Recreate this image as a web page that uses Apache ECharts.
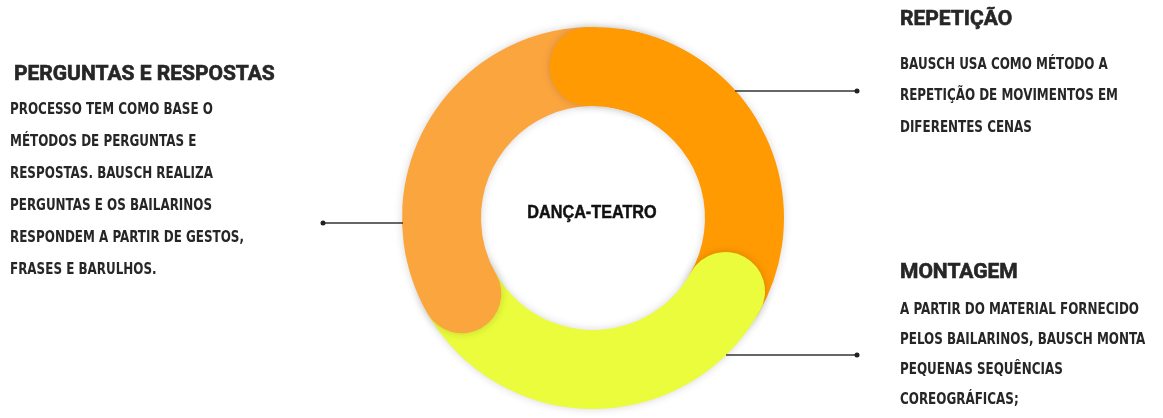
<!DOCTYPE html>
<html>
<head>
<meta charset="utf-8">
<script src="https://cdn.jsdelivr.net/npm/echarts@6/dist/echarts.min.js"></script>
<style>
  html, body { margin: 0; padding: 0; background: #fff; }
  #chart { width: 1163px; height: 418px; }
</style>
</head>
<body>
<div id="chart"></div>
<script>
// arcos do anel (graus do eixo angular, 0 = ponto de corte logo a esquerda do topo)
var pieceNames = ['repeticao-fim', 'montagem', 'perguntas', 'repeticao-inicio', 'repeticao-meio'];
var pieceStart = [10, 120.5, 241.5, 0, 15];
var pieceLength = [111.5, 123, 118.5, 21.5, 45];
var pieceColor = ['#FF9A02', '#EAFC3B', '#FBA53F', '#FF9A02', '#FF9A02'];
var pieceShadow = [true, true, true, true, false];

var centerLabel = 'DANÇA-TEATRO';
var titles = ['REPETIÇÃO', 'MONTAGEM', 'PERGUNTAS E RESPOSTAS'];
var texts = [
  ['BAUSCH USA COMO MÉTODO A', 'REPETIÇÃO DE MOVIMENTOS EM', 'DIFERENTES CENAS'],
  ['A PARTIR DO MATERIAL FORNECIDO', 'PELOS BAILARINOS, BAUSCH MONTA', 'PEQUENAS SEQUÊNCIAS', 'COREOGRÁFICAS;'],
  ['PROCESSO TEM COMO BASE O', 'MÉTODOS DE PERGUNTAS E', 'RESPOSTAS. BAUSCH REALIZA', 'PERGUNTAS E OS BAILARINOS', 'RESPONDEM A PARTIR DE GESTOS,', 'FRASES E BARULHOS.']
];

var chart = echarts.init(document.getElementById('chart'));

// um sistema polar por pedaco, todos sobrepostos, para os arcos se cobrirem
var polars = [], angleAxes = [], radiusAxes = [], series = [];
for (var i = 0; i < pieceStart.length; i++) {
  polars.push({ center: [593, 218], radius: [112, 191] });
  angleAxes.push({ polarIndex: i, type: 'value', min: 0, max: 360, startAngle: 91.5, clockwise: true, show: false });
  radiusAxes.push({ polarIndex: i, type: 'category', data: ['anel'], show: false });
  series.push({
    name: pieceNames[i] + '-base',
    type: 'bar',
    coordinateSystem: 'polar',
    polarIndex: i,
    stack: 'p' + i,
    data: [pieceStart[i]],
    barWidth: '100%',
    silent: true,
    itemStyle: { color: 'rgba(0,0,0,0)' },
    z: 2 + i * 2
  });
  var style = { color: pieceColor[i] };
  if (pieceShadow[i]) {
    style.shadowBlur = 8;
    style.shadowColor = 'rgba(0,0,0,0.16)';
  }
  series.push({
    name: pieceNames[i],
    type: 'bar',
    coordinateSystem: 'polar',
    polarIndex: i,
    stack: 'p' + i,
    data: [pieceLength[i]],
    barWidth: '100%',
    roundCap: true,
    silent: true,
    itemStyle: style,
    z: 3 + i * 2
  });
}

var titleFont = 'bold 21px Roboto, "Liberation Sans", sans-serif';
var bodyFont = 'bold 16px "Liberation Sans Narrow", "DejaVu Sans Condensed", sans-serif';
var bodyScale = 0.83;

function dot(x, y) {
  return { type: 'circle', shape: { cx: x, cy: y, r: 2.5 }, style: { fill: '#222' }, z: 20 };
}
function line(x1, y, x2) {
  return { type: 'line', shape: { x1: x1, y1: y, x2: x2, y2: y }, style: { stroke: '#333', lineWidth: 1.5 }, z: 20 };
}
function label(x, y, txt, font, lh, va, sx, heavy) {
  var st = { text: txt, font: font, fill: '#262626', lineHeight: lh, textVerticalAlign: va || 'top' };
  if (heavy) { st.stroke = '#1a1a1a'; st.lineWidth = 0.6; }
  return { type: 'text', x: x, y: y, z: 20, scaleX: sx || 1, style: st };
}

var option = {
  animation: false,
  backgroundColor: '#fff',
  polar: polars,
  angleAxis: angleAxes,
  radiusAxis: radiusAxes,
  series: series,
  graphic: [
    {
      type: 'text', x: 592, y: 213, z: 20, scaleX: 0.9,
      style: { text: centerLabel, font: 'bold 18px "Liberation Sans Narrow", sans-serif', fill: '#111', stroke: '#111', lineWidth: 0.5, textAlign: 'center', textVerticalAlign: 'middle' }
    },
    label(900, 20, titles[0], titleFont, 22, 'middle', 1, true),
    label(900, 49, texts[0].join('\n'), bodyFont, 31.5, 'top', bodyScale),
    label(900, 273, titles[1], titleFont, 22, 'middle', 1, true),
    label(900, 295, texts[1].join('\n'), bodyFont, 30, 'top', bodyScale),
    label(14, 75, titles[2], titleFont, 22, 'middle', 1, true),
    label(10, 94, texts[2].join('\n'), bodyFont, 32, 'top', bodyScale),
    line(735, 91, 857), dot(857, 91),
    line(726, 355, 857), dot(857, 355),
    line(323, 223, 403), dot(323, 223)
  ]
};
chart.setOption(option);
</script>
</body>
</html>
